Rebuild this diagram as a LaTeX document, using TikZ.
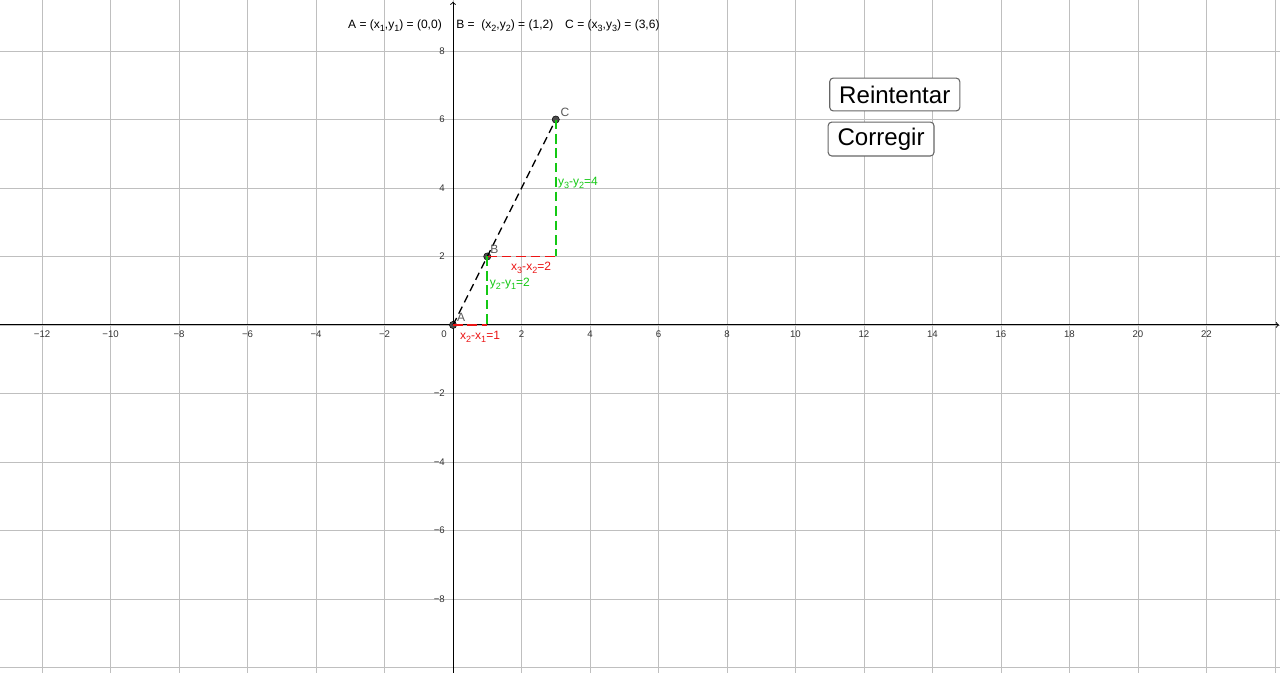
\documentclass[tikz,border=0pt]{standalone}
\usepackage{fontspec}
\setmainfont{Liberation Sans}
\usetikzlibrary{positioning}
\definecolor{rojo}{RGB}{235,20,20}
\definecolor{verde}{RGB}{20,200,20}
\newcommand{\subi}[1]{\raisebox{-0.45ex}{\fontsize{7.5}{8}\selectfont #1}}

\begin{document}
\begin{tikzpicture}[x=1cm,y=1cm,node distance=1cm,
    rejilla/.style={draw=black!25,line width=0.6pt},
    eje/.style={draw=black,line width=0.8pt,->},
    numero/.style={font=\fontsize{8}{9}\selectfont,text=black!80,inner sep=1pt},
    punto/.style={circle,fill=black!70,draw=black,line width=0.4pt,inner sep=0pt,minimum size=2.1mm},
    nombre/.style={font=\fontsize{10}{11}\selectfont,text=black!65,inner sep=1pt},
    recta/.style={draw=black,line width=1.1pt,dash pattern=on 6.5pt off 4pt},
    difx/.style={draw=rojo,line width=1.4pt,dash pattern=on 8pt off 4pt},
    dify/.style={draw=verde,line width=1.4pt,dash pattern=on 8pt off 4pt},
    rotulo/.style={font=\fontsize{10}{11}\selectfont,inner sep=1pt},
    titulo/.style={font=\fontsize{10}{11}\selectfont,anchor=west,inner sep=0pt},
    boton/.style={draw=black!60,line width=0.9pt,fill=white,rounded corners=3pt,
        font=\fontsize{20}{22}\selectfont,inner sep=0pt}]
    \useasboundingbox (-13.23,-10.16) rectangle (24.15,9.49);

    % rejilla y ejes
    \foreach \x in {-12,-10,...,24}
        \draw[rejilla] (\x,-10.2) -- (\x,9.5);
    \foreach \y in {-10,-8,...,8}
        \draw[rejilla] (-13.3,\y) -- (24.2,\y);
    \draw[eje] (-13.3,0) -- (24.12,0);
    \draw[eje] (0,-10.2) -- (0,9.44);

    \foreach \n in {2,4,...,12}
        \node[numero,below] at (-\n,-0.12) {−\n};
    \foreach \n in {2,4,...,22}
        \node[numero,below] at (\n,-0.12) {\n};
    \foreach \n in {2,4,6,8}
        \node[numero,left] at (-0.2,\n) {\n};
    \foreach \n in {2,4,6,8}
        \node[numero,left] at (-0.2,-\n) {−\n};
    \node[numero,anchor=north east] at (-0.14,-0.12) {0};

    % puntos
    \node[punto] (A) at (0,0) {};
    \node[punto] (B) at (1,2) {};
    \node[punto] (C) at (3,6) {};
    \coordinate (P) at (1,0);
    \coordinate (Q) at (3,2);

    \path[recta] (A.center) edge (C);
    \path[difx] (A.center) edge (P)
                (B.center) edge (Q);
    \path[dify] (B.center) edge (P)
                (C.center) edge (Q);

    \node[nombre,anchor=south west] at (0.08,0.05) {A};
    \node[nombre,anchor=south west] at (1.05,2.05) {B};
    \node[nombre,anchor=south west] at (3.1,6.05) {C};

    \node[rotulo,text=rojo] (dx1) at (0.79,-0.34) {x\subi{2}-x\subi{1}=1};
    \node[rotulo,text=rojo] (dx2) at (2.28,1.67) {x\subi{3}-x\subi{2}=2};
    \node[rotulo,text=verde] (dy1) at (1.66,1.21) {y\subi{2}-y\subi{1}=2};
    \node[rotulo,text=verde] (dy2) at (3.65,4.16) {y\subi{3}-y\subi{2}=4};

    % coordenadas
    \node[titulo] (tA) at (-3.07,8.74) {A = (x\subi{1},y\subi{1}) = (0,0)};
    \node[titulo] (tB) at (0.09,8.74) {B =\ \ (x\subi{2},y\subi{2}) = (1,2)};
    \node[titulo] (tC) at (3.27,8.74) {C = (x\subi{3},y\subi{3}) = (3,6)};

    % botones
    \node[boton,minimum width=3.8cm,minimum height=0.96cm] (reintentar) at (12.9,6.73) {Reintentar};
    \node[boton,minimum width=3.09cm,minimum height=0.99cm,on grid,below left=1.3cm and 0.4cm of reintentar] (corregir) {Corregir};
\end{tikzpicture}
\end{document}
